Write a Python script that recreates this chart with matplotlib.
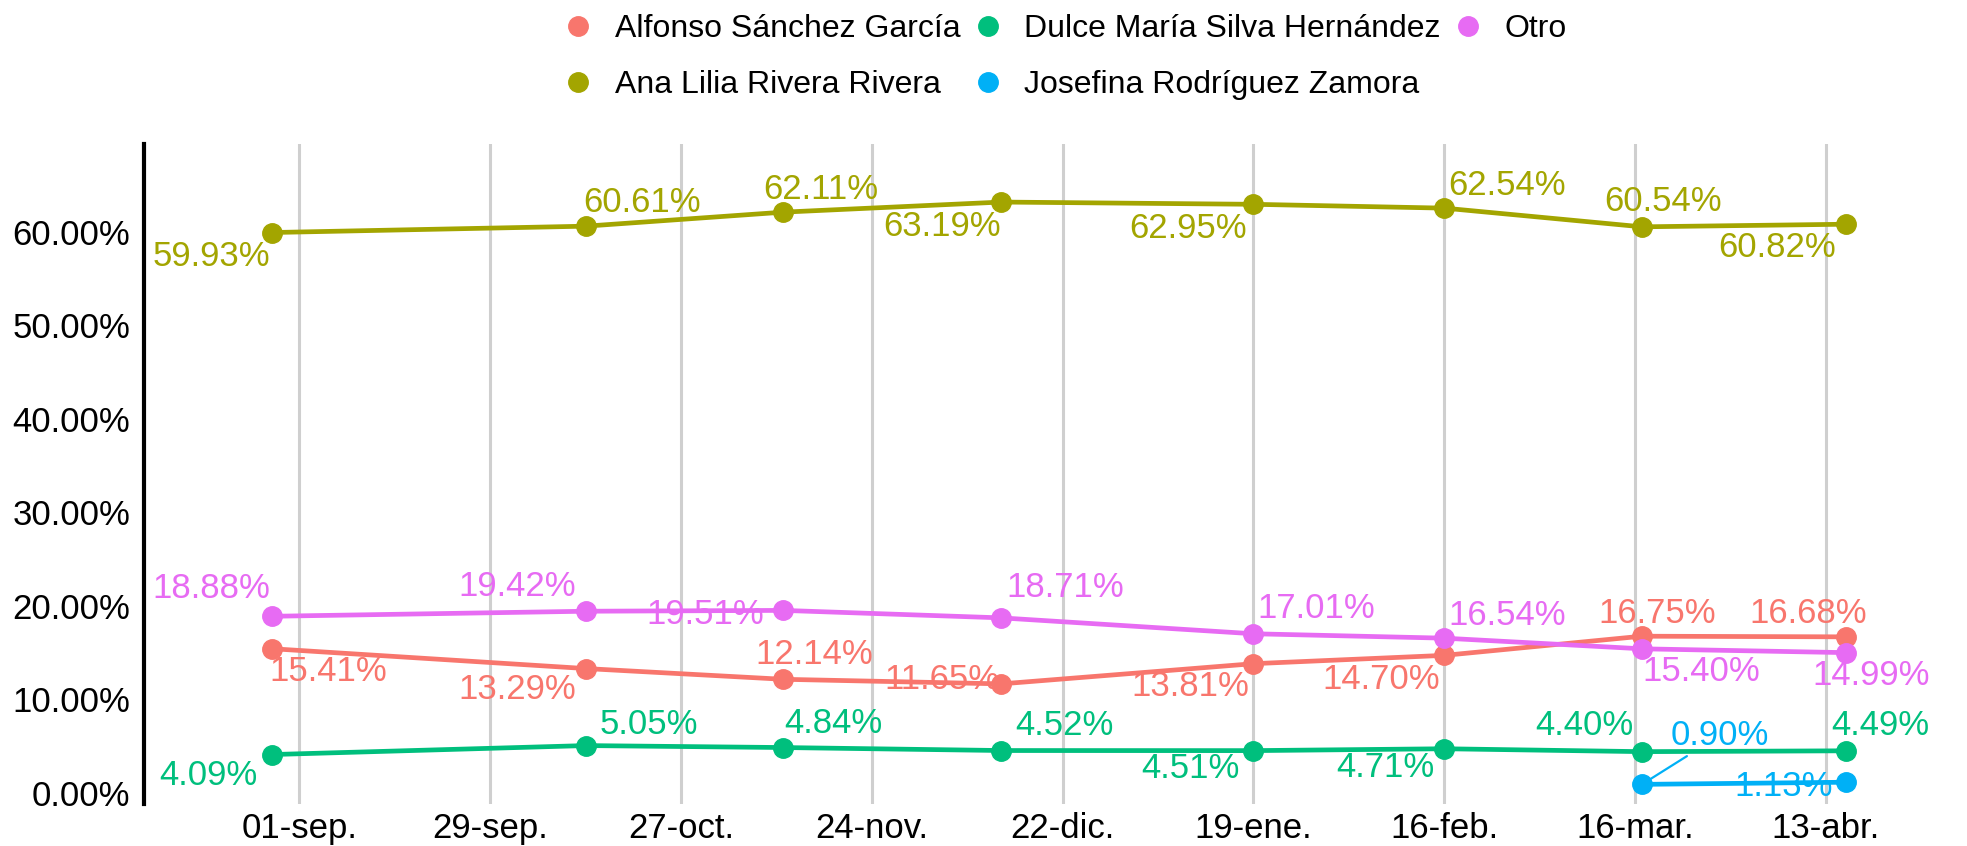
import matplotlib
matplotlib.use("Agg")
import matplotlib.pyplot as plt
import matplotlib.dates as mdates
from matplotlib.lines import Line2D
from matplotlib.ticker import FuncFormatter
import pandas as pd

plt.rcParams['font.family'] = ['Liberation Sans', 'DejaVu Sans']

# data
fechas = pd.to_datetime(['2022-08-28', '2022-10-13', '2022-11-11', '2022-12-13',
                         '2023-01-19', '2023-02-16', '2023-03-17', '2023-04-16'])
alfonso = [15.41, 13.29, 12.14, 11.65, 13.81, 14.70, 16.75, 16.68]
ana = [59.93, 60.61, 62.11, 63.19, 62.95, 62.54, 60.54, 60.82]
dulce = [4.09, 5.05, 4.84, 4.52, 4.51, 4.71, 4.40, 4.49]
josefina = [0.90, 1.13]
otro = [18.88, 19.42, 19.51, 18.71, 17.01, 16.54, 15.40, 14.99]
fechas_josefina = fechas[-2:]

nombres = ['Alfonso Sánchez García', 'Ana Lilia Rivera Rivera', 'Dulce María Silva Hernández',
           'Josefina Rodríguez Zamora', 'Otro']
colores = ['#F8766D', '#A3A500', '#00BF7D', '#00B0F6', '#E76BF3']
tick_fechas = pd.date_range('2022-09-01', periods=9, freq='28D')
meses = ['ene', 'feb', 'mar', 'abr', 'may', 'jun', 'jul', 'ago', 'sep', 'oct', 'nov', 'dic']

# label offsets in pixels (dx, dy)
off_alfonso = [(56, -23), (-68, -21), (31, 25), (-59, 4), (-63, -23), (-63, -24), (15, 23), (-38, 23)]
off_ana = [(-61, -24), (56, 24), (38, 23), (-59, -24), (-65, -24), (63, 23), (21, 25), (-69, -23)]
off_dulce = [(-64, -21), (63, 21), (50, 24), (63, 25), (-63, -18), (-59, -19), (-58, 26), (34, 25)]
off_josefina = [(78, 49), (-63, -4)]
off_otro = [(-61, 28), (-68, 25), (-78, -4), (64, 30), (63, 25), (63, 23), (59, -23), (25, -23)]

FS = 25
FS_LEG = 23

fig = plt.figure(figsize=(19.67, 8.46), dpi=100)
ax = fig.add_axes([144 / 1967, 1 - 804 / 846, (1935 - 144) / 1967, (804 - 144) / 846])

series = [
    (fechas, alfonso, colores[0], off_alfonso),
    (fechas, ana, colores[1], off_ana),
    (fechas, dulce, colores[2], off_dulce),
    (fechas_josefina, josefina, colores[3], off_josefina),
    (fechas, otro, colores[4], off_otro),
]
for x, y, c, offs in series:
    ax.plot(x, y, color=c, lw=3.4, marker='o', ms=14, zorder=3)
    for xi, yi, (dx, dy) in zip(x, y, offs):
        lead = None
        if abs(dx) > 70 and abs(dy) > 40:
            lead = dict(arrowstyle='-', color=c, lw=1.6, shrinkA=2, shrinkB=4)
        ax.annotate(f'{yi:.2f}%', (xi, yi), xytext=(dx, dy), textcoords='offset pixels',
                    ha='center', va='center', color=c, fontsize=FS, zorder=4,
                    arrowprops=lead)

x0 = mdates.date2num(pd.Timestamp('2022-09-01'))
ax.set_xlim(x0 - 22.8, x0 + 240)
ax.set_ylim(-1.2, 69.4)

ax.set_xticks(tick_fechas)
ax.xaxis.set_major_formatter(FuncFormatter(
    lambda v, p: f"{mdates.num2date(v).day:02d}-{meses[mdates.num2date(v).month - 1]}."))
ax.set_yticks([0, 10, 20, 30, 40, 50, 60])
ax.yaxis.set_major_formatter(FuncFormatter(lambda v, p: f'{v:.2f}%'))
ax.tick_params(axis='both', length=0, labelsize=FS, colors='black')
ax.tick_params(axis='y', pad=10)
ax.tick_params(axis='x', pad=6)

ax.grid(axis='x', color='#cfcfcf', lw=2.2)
ax.set_axisbelow(True)
for s in ['top', 'right', 'bottom']:
    ax.spines[s].set_visible(False)
ax.spines['left'].set_linewidth(3)
ax.spines['left'].set_color('black')

handles = [Line2D([], [], ls='', marker='o', ms=14, color=c) for c in colores]
fig.legend(handles, nombres, loc='upper center', bbox_to_anchor=(0.542, 1.0), ncol=3,
           frameon=False, fontsize=FS_LEG, handlelength=0.8, handletextpad=0.75,
           columnspacing=0.45, labelspacing=0.8, borderaxespad=0.05)

fig.savefig('out.png', dpi=100)
